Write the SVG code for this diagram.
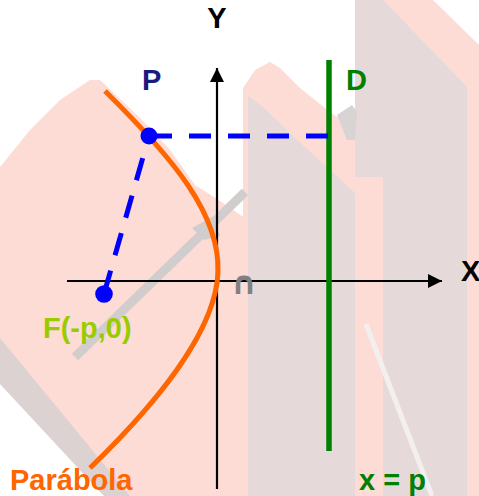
<svg xmlns="http://www.w3.org/2000/svg" width="479" height="496" viewBox="0 0 479 496">
<style>
.lbl{font-family:"Liberation Sans",Arial,sans-serif;font-weight:bold;font-size:29px}
.axis{stroke:#000;stroke-width:2.2;fill:none}
.dash{stroke:#0000ff;stroke-width:5;fill:none}
.pink{fill:#fddcd6}
.gp{fill:#e6d9d9}
</style>
<defs>
<marker id="arr" viewBox="0 0 14 14" refX="14" refY="7" markerWidth="14" markerHeight="14" markerUnits="userSpaceOnUse" orient="auto">
<path d="M0,0 L14,7 L0,14 Z" fill="#000"/>
</marker>
</defs>
<rect width="479" height="496" fill="#fff"/>
<g id="background">
<polygon class="pink" points="0,167 30,130 60,100 90,80 100,80 140,118 170,150 195,185 217,199 245,218 245,496 112,496 0,382"/>
<polygon class="pink" points="243,88 255,70 270,62 280,68 300,88 330,112 355,130 385,165 385,496 243,496"/>
<polygon class="gp" points="248,96 263,107 297,140 327,167 355,193 355,496 248,496"/>
<polygon class="pink" points="355,0 433,0 479,45 479,496 355,496"/>
<polygon class="gp" points="355,0 383,0 467,87 467,496 383,496 383,177 355,177"/>
<polygon fill="#dcd2d2" points="0,338 0,384 104,496 130,496"/>
<line x1="75" y1="357" x2="245" y2="192" stroke="#d2cdcd" stroke-width="9"/>
<polygon fill="#d2cdcd" points="192,228 214,216 220,236 204,240"/>
<line x1="366" y1="324" x2="432" y2="496" stroke="#f3efef" stroke-width="5"/>
<polygon fill="#d8d4d4" points="337,115 352,105 357,112 355,140 347,140"/>
</g>
<g id="axis-x">
<line class="axis" x1="67" y1="281" x2="442" y2="281" marker-end="url(#arr)"/>
<text class="lbl" x="461" y="281">X</text>
</g>
<g id="axis-y">
<line class="axis" x1="217" y1="489" x2="217" y2="68" marker-end="url(#arr)"/>
<text class="lbl" x="217" y="28" text-anchor="middle">Y</text>
</g>
<g id="origin">
<text x="231" y="294" font-family="DejaVu Sans,sans-serif" font-weight="bold" font-size="32" fill="#808080">∩</text>
</g>
<g id="directrix">
<line x1="329" y1="60" x2="329" y2="451" stroke="#008000" stroke-width="5.5"/>
<text class="lbl" x="346" y="90" fill="#008000">D</text>
<text class="lbl" x="359" y="490" fill="#008000">x = p</text>
</g>
<g id="parabola">
<path d="M105,91 C175,160 220,215 218,272 C216,330 160,400 90,468" fill="none" stroke="#ff6600" stroke-width="5"/>
<text class="lbl" x="10" y="490" fill="#ff6600">Parábola</text>
</g>
<g id="connectors">
<line class="dash" x1="150" y1="136" x2="329" y2="136" stroke-dasharray="22 17"/>
<line class="dash" x1="149" y1="136" x2="104" y2="294" stroke-dasharray="23 16" stroke-dashoffset="16"/>
</g>
<g id="point-P">
<circle cx="149" cy="136" r="8.5" fill="#0000ff"/>
<text class="lbl" x="142" y="90" fill="#1a1a80">P</text>
</g>
<g id="focus-F">
<circle cx="104" cy="294" r="8.8" fill="#0000ff"/>
<text class="lbl" x="43" y="338" fill="#99cc00">F(-p,0)</text>
</g>
</svg>
